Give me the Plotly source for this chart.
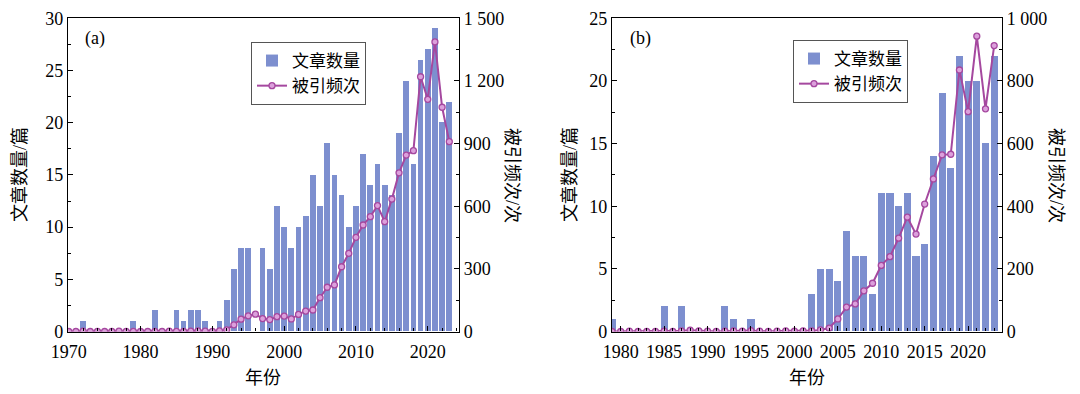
import plotly.graph_objects as go

# ---------------- data ----------------
years_a = list(range(1970, 2024))
articles_a = [0, 0, 1, 0, 0, 0, 0, 0, 0, 1,      # 1970-1979
              0, 0, 2, 0, 0, 2, 1, 2, 2, 1,      # 1980-1989
              0, 1, 3, 6, 8, 8, 0, 8, 6, 12,     # 1990-1999
              10, 8, 10, 11, 15, 12, 18, 15, 13, 10,   # 2000-2009
              12, 17, 14, 16, 14, 13, 19, 24, 16, 26,  # 2010-2019
              27, 29, 20, 22]                          # 2020-2023
citations_a = [0, 0, 2, 0, 1, 0, 0, 2, 0, 1,
               0, 0, 1, 0, 2, 1, 0, 2, 3, 2,
               1, 3, 8, 32, 59, 75, 83, 62, 57, 71,
               74, 60, 82, 98, 103, 162, 212, 223, 310, 374,
               451, 510, 550, 603, 526, 634, 760, 845, 866, 1220,
               1112, 1387, 1074, 909]

years_b = list(range(1979, 2024))
articles_b = [1, 0, 0, 0, 0, 0, 2, 0, 2, 0,      # 1979-1988
              0, 0, 0, 2, 1, 0, 1, 0, 0, 0,      # 1989-1998
              0, 0, 0, 3, 5, 5, 4, 8, 6, 6,      # 1999-2008
              3, 11, 11, 10, 11, 6, 7, 14, 19, 13,   # 2009-2018
              22, 20, 20, 15, 22]                    # 2019-2023
citations_b = [0, 0, 1, 0, 0, 0, 1, 0, 2, 4,
               2, 1, 0, 1, 2, 1, 3, 1, 0, 1,
               2, 1, 2, 2, 5, 11, 40, 78, 88, 130,
               154, 211, 239, 298, 365, 311, 407, 487, 564, 566,
               835, 702, 943, 711, 913]

y2_vals_a = [0, 300, 600, 900, 1200, 1500]
y2_text_a = ["0", "300", "600", "900", "1 200", "1 500"]
y2_vals_b = [0, 200, 400, 600, 800, 1000]
y2_text_b = ["0", "200", "400", "600", "800", "1 000"]

legend_bar = "文章数量"
legend_line = "被引频次"
xtitle = "年份"
ytitle_left = "文章数量/篇"
ytitle_right = "被引频次/次"

# ---------------- style ----------------
W, H = 1080, 394
OFF = 8  # page body margin: figure origin sits at (8, 8) on screen
BAR = "#7d8fcf"
LINE = "#a5489f"
MFILL = "#dca0dc"
SERIF = "Liberation Serif, Times New Roman, serif"
CJK = "Liberation Serif, Noto Sans CJK SC, serif"
FS = 18

def px(x):
    return (x - OFF) / W

def py(y):
    return 1 - (y - OFF) / H

ydom = [py(331.5), py(18.3)]

fig = go.Figure()

fig.add_trace(go.Bar(x=years_a, y=articles_a, name=legend_bar, marker_color=BAR,
                     marker_line_width=0, width=0.8, xaxis="x", yaxis="y",
                     legend="legend"))
fig.add_trace(go.Scatter(x=years_a, y=citations_a, name=legend_line, mode="lines+markers",
                         line=dict(color=LINE, width=2),
                         marker=dict(symbol="circle", size=6, color=MFILL,
                                     line=dict(color=LINE, width=1.3)),
                         xaxis="x", yaxis="y2", legend="legend"))
fig.add_trace(go.Bar(x=years_b, y=articles_b, name=legend_bar, marker_color=BAR,
                     marker_line_width=0, width=0.82, xaxis="x2", yaxis="y3",
                     legend="legend2"))
fig.add_trace(go.Scatter(x=years_b, y=citations_b, name=legend_line, mode="lines+markers",
                         line=dict(color=LINE, width=2),
                         marker=dict(symbol="circle", size=6, color=MFILL,
                                     line=dict(color=LINE, width=1.3)),
                         xaxis="x2", yaxis="y4", legend="legend2"))

axis_common = dict(showline=True, linecolor="black", linewidth=1.3, showgrid=False,
                   zeroline=False, ticks="inside", ticklen=5, tickcolor="black",
                   tickwidth=1.2, automargin=False,
                   tickfont=dict(family=SERIF, size=FS, color="black"))

fig.update_layout(
    width=W, height=H,
    margin=dict(l=0, r=0, t=0, b=0, pad=0, autoexpand=False),
    paper_bgcolor="white", plot_bgcolor="white",
    bargap=0,
    xaxis=dict(domain=[px(68), px(459)], anchor="y", range=[1969.9, 2024.35],
               tick0=1970, dtick=10, mirror=True, ticklabelstandoff=4,
               minor=dict(dtick=2, ticks="inside", ticklen=3, tickcolor="black"),
               **axis_common),
    yaxis=dict(domain=ydom, anchor="x", range=[0, 30], tick0=0, dtick=5,
               minor=dict(dtick=2.5, ticks="inside", ticklen=3, tickcolor="black"),
               **axis_common),
    yaxis2=dict(domain=ydom, anchor="x", overlaying="y", side="right",
                range=[0, 1500], tickmode="array", tickvals=y2_vals_a, ticktext=y2_text_a,
                minor=dict(tick0=0, dtick=150, ticks="inside", ticklen=3, tickcolor="black"),
                **axis_common),
    xaxis2=dict(domain=[px(612), px(1002)], anchor="y3", range=[1979.0, 2023.9],
                tick0=1980, dtick=5, mirror=True, ticklabelstandoff=4,
                minor=dict(dtick=1, ticks="inside", ticklen=3, tickcolor="black"),
                **axis_common),
    yaxis3=dict(domain=ydom, anchor="x2", range=[0, 25], tick0=0, dtick=5,
                minor=dict(dtick=2.5, ticks="inside", ticklen=3, tickcolor="black"),
                **axis_common),
    yaxis4=dict(domain=ydom, anchor="x2", overlaying="y3", side="right",
                range=[0, 1000], tickmode="array", tickvals=y2_vals_b, ticktext=y2_text_b,
                minor=dict(tick0=0, dtick=100, ticks="inside", ticklen=3, tickcolor="black"),
                **axis_common),
    legend=dict(x=px(251), y=py(42), xanchor="left", yanchor="top",
                bordercolor="#555555", borderwidth=1, bgcolor="white",
                font=dict(family=CJK, size=17, color="black"),
                tracegroupgap=0, itemwidth=30),
    legend2=dict(x=px(793), y=py(40), xanchor="left", yanchor="top",
                 bordercolor="#555555", borderwidth=1, bgcolor="white",
                 font=dict(family=CJK, size=17, color="black"),
                 tracegroupgap=0, itemwidth=30),
    showlegend=True,
)

ann = []
def add_text(x, y, text, size=FS, angle=0, family=CJK):
    ann.append(dict(x=px(x), y=py(y), xref="paper", yref="paper", text=text,
                    showarrow=False, textangle=angle, xanchor="center", yanchor="middle",
                    font=dict(family=family, size=size, color="black")))

add_text(95, 39, "(a)", family=SERIF)
add_text(640, 38, "(b)", family=SERIF)
add_text(263, 378, xtitle, size=18)
add_text(807, 378, xtitle, size=18)
add_text(20, 175, ytitle_left, size=18, angle=-90)
add_text(512, 175, ytitle_right, size=18, angle=90)
add_text(570, 175, ytitle_left, size=18, angle=-90)
add_text(1056, 175, ytitle_right, size=18, angle=90)
fig.update_layout(annotations=ann)

fig.write_html("out.html")
